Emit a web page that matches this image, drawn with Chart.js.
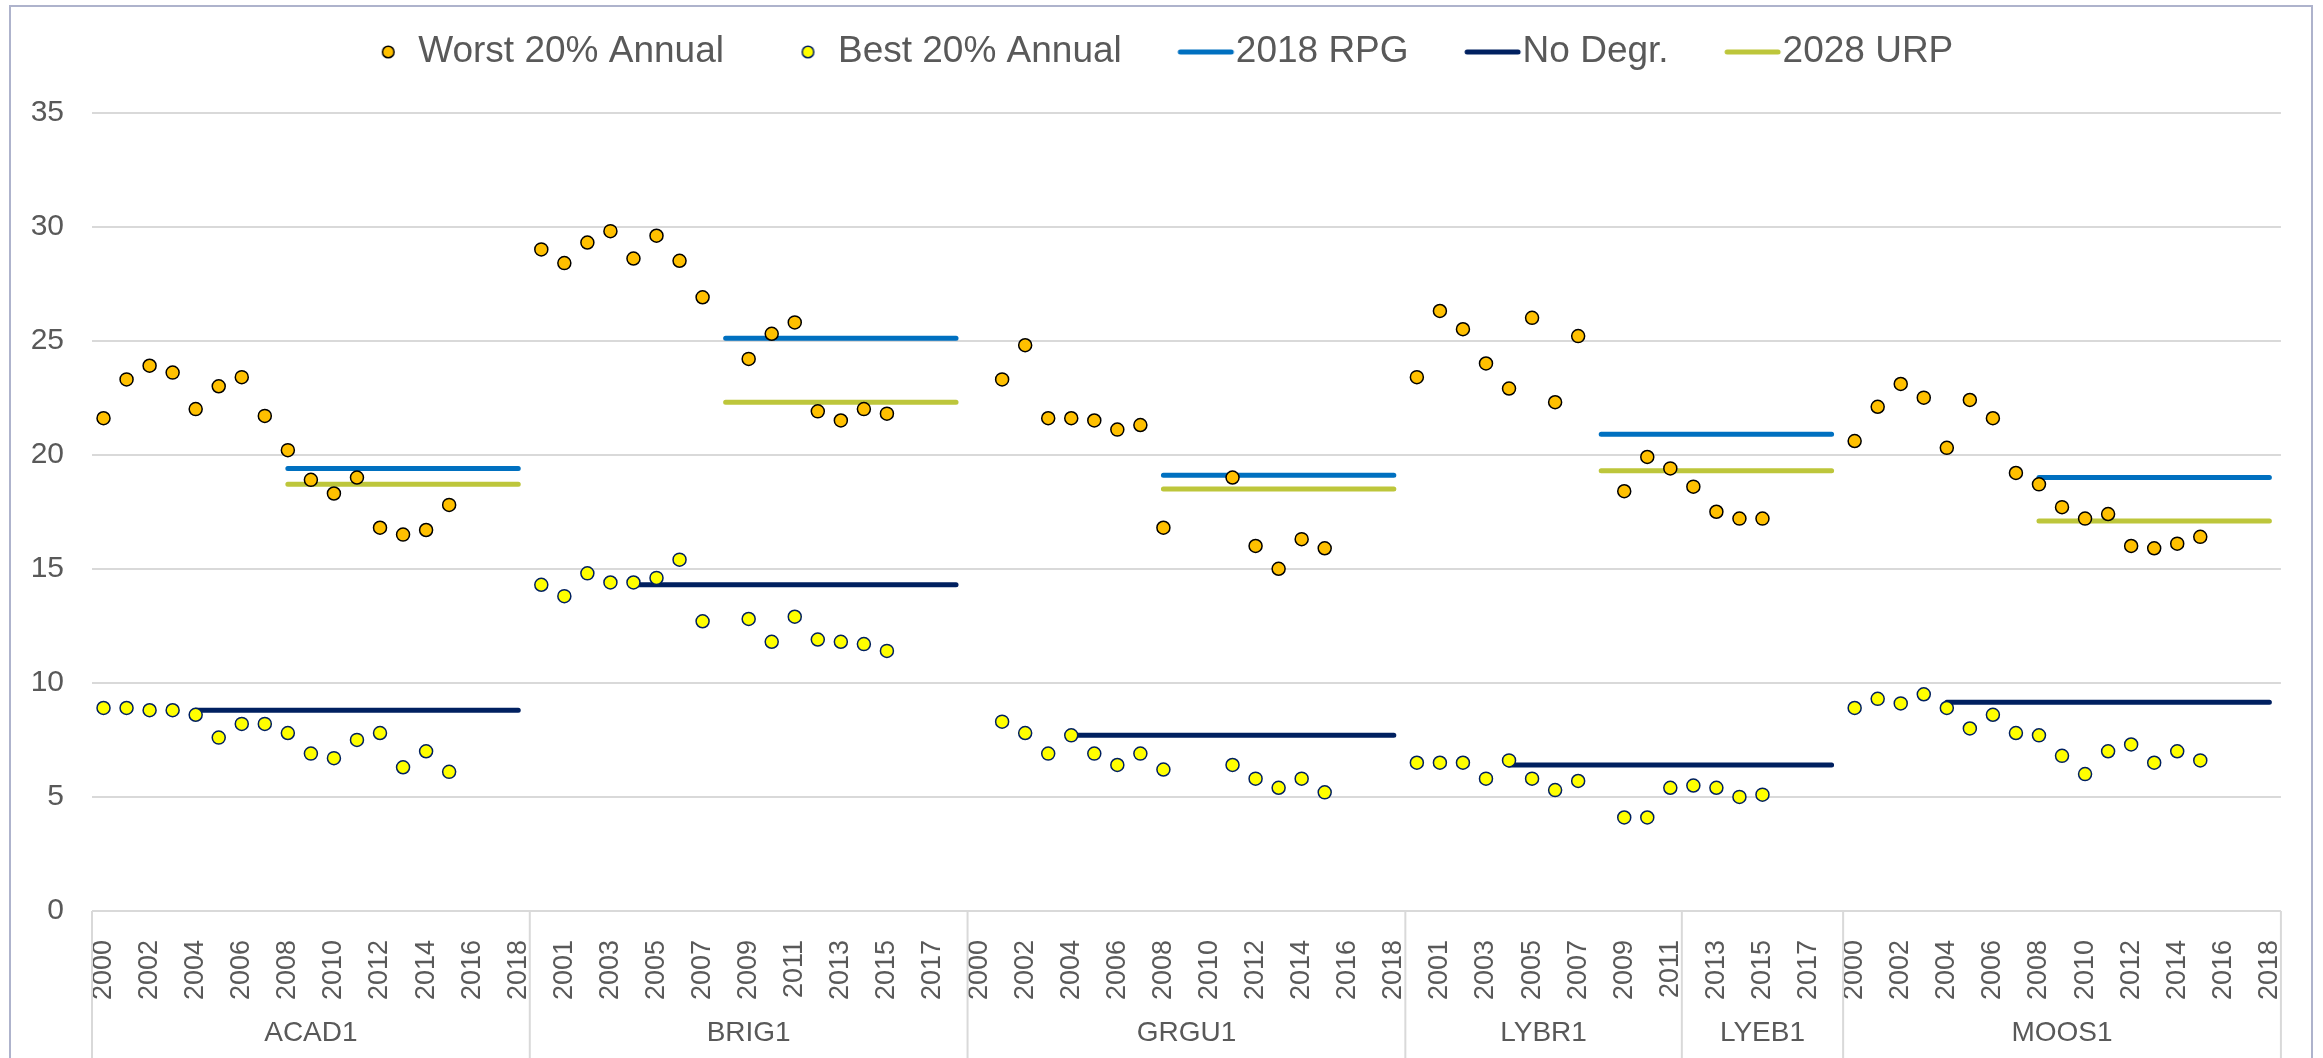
<!DOCTYPE html>
<html>
<head>
<meta charset="utf-8">
<script src="https://cdn.jsdelivr.net/npm/chart.js@4.4.1/dist/chart.umd.min.js"></script>
<style>
  html, body { margin: 0; padding: 0; background: #fff; }
  #wrap { width: 2323px; height: 1058px; }
</style>
</head>
<body>
<div id="wrap"><canvas id="chart" width="2323" height="1058"></canvas></div>
<script>
// sites and the years each one covers
const sites = ['ACAD1', 'BRIG1', 'GRGU1', 'LYBR1', 'LYEB1', 'MOOS1']
const siteFirstYear = [2000, 2000, 2000, 2000, 2012, 2000]
const siteLastYear = [2018, 2018, 2018, 2011, 2018, 2018]

// Worst 20% annual, one entry per year of the site (null = no value)
const worstACAD1 = [21.6, 23.3, 23.9, 23.6, 22.0, 23.0, 23.4, 21.7, 20.2, 18.9, 18.3, 19.0, 16.8, 16.5, 16.7, 17.8, null, null, null]
const worstBRIG1 = [29.0, 28.4, 29.3, 29.8, 28.6, 29.6, 28.5, 26.9, null, 24.2, 25.3, 25.8, 21.9, 21.5, 22.0, 21.8, null, null, null]
const worstGRGU1 = [null, 23.3, 24.8, 21.6, 21.6, 21.5, 21.1, 21.3, 16.8, null, null, 19.0, 16.0, 15.0, 16.3, 15.9, null, null, null]
const worstLYBR1 = [23.4, 26.3, 25.5, 24.0, 22.9, 26.0, 22.3, 25.2, null, 18.4, 19.9, 19.4]
const worstLYEB1 = [18.6, 17.5, 17.2, 17.2, null, null, null]
const worstMOOS1 = [20.6, 22.1, 23.1, 22.5, 20.3, 22.4, 21.6, 19.2, 18.7, 17.7, 17.2, 17.4, 16.0, 15.9, 16.1, 16.4, null, null, null]

// Best 20% annual
const bestACAD1 = [8.9, 8.9, 8.8, 8.8, 8.6, 7.6, 8.2, 8.2, 7.8, 6.9, 6.7, 7.5, 7.8, 6.3, 7.0, 6.1, null, null, null]
const bestBRIG1 = [14.3, 13.8, 14.8, 14.4, 14.4, 14.6, 15.4, 12.7, null, 12.8, 11.8, 12.9, 11.9, 11.8, 11.7, 11.4, null, null, null]
const bestGRGU1 = [null, 8.3, 7.8, 6.9, 7.7, 6.9, 6.4, 6.9, 6.2, null, null, 6.4, 5.8, 5.4, 5.8, 5.2, null, null, null]
const bestLYBR1 = [6.5, 6.5, 6.5, 5.8, 6.6, 5.8, 5.3, 5.7, null, 4.1, 4.1, 5.4]
const bestLYEB1 = [5.5, 5.4, 5.0, 5.1, null, null, null]
const bestMOOS1 = [8.9, 9.3, 9.1, 9.5, 8.9, 8.0, 8.6, 7.8, 7.7, 6.8, 6.0, 7.0, 7.3, 6.5, 7.0, 6.6, null, null, null]

// goal lines: one level per site, drawn from a start year to the end of the site
const rpg2018 = [19.4, 25.1, 19.1, 20.9, 20.9, 19.0]
const urp2028 = [18.7, 22.3, 18.5, 19.3, 19.3, 17.1]
const noDegr = [8.8, 14.3, 7.7, 6.4, 6.4, 9.15]
const goalFromYear = 2008
const noDegrFromYear = 2004

const yTicks = { min: 0, max: 35, step: 5 }

const textColor = '#595959'
const fontFamily = "'Liberation Sans', Arial, sans-serif"
const colors = {
  worst: '#FFC000', best: '#FFFF00',
  rpg: '#0070C0', noDegr: '#002060', urp: '#BDC63B',
  grid: '#D9D9D9'
}

// build category axis
const siteYears = sites.map((s, i) => {
  const ys = []
  for (let y = siteFirstYear[i]; y <= siteLastYear[i]; y++) ys.push(y)
  return ys
})
const labels = siteYears.flat().map(String)
const worst = [].concat(worstACAD1, worstBRIG1, worstGRGU1, worstLYBR1, worstLYEB1, worstMOOS1)
const best = [].concat(bestACAD1, bestBRIG1, bestGRGU1, bestLYBR1, bestLYEB1, bestMOOS1)
const levelLine = (levels, from) => siteYears.flatMap((ys, i) => ys.map(y => y >= from ? levels[i] : null))

// legend markers (box is 70 wide, image is centred on it)
const legendMark = (kind, color, border) => {
  const c = document.createElement('canvas')
  c.width = 124
  c.height = 18
  const g = c.getContext('2d')
  if (kind === 'dot') {
    g.beginPath()
    g.arc(85.5, 9, 5.8, 0, Math.PI * 2)
    g.fillStyle = color
    g.fill()
    g.lineWidth = 1.5
    g.strokeStyle = border
    g.stroke()
  } else {
    g.beginPath()
    g.moveTo(60, 9)
    g.lineTo(111, 9)
    g.lineWidth = 5
    g.lineCap = 'round'
    g.strokeStyle = color
    g.stroke()
  }
  return c
}
const marks = [
  legendMark('dot', colors.worst, '#000000'),
  legendMark('dot', colors.best, colors.noDegr),
  legendMark('line', colors.rpg),
  legendMark('line', colors.noDegr),
  legendMark('line', colors.urp)
]

const legendGap = {
  id: 'legendGap',
  beforeInit(chart) {
    const fit = chart.legend.fit
    chart.legend.fit = function () {
      fit.call(this)
      this.height += 32
    }
  }
}

// second row of the category axis: site names with separators
const siteAxis = {
  id: 'siteAxis',
  afterDraw(chart) {
    const xs = chart.scales.x
    const ctx = chart.ctx
    const half = (xs.getPixelForValue(1) - xs.getPixelForValue(0)) / 2
    const top = chart.chartArea.bottom
    const bottom = chart.height
    ctx.save()
    ctx.strokeStyle = colors.grid
    ctx.lineWidth = 2
    ctx.fillStyle = textColor
    ctx.font = '28px ' + fontFamily
    ctx.textAlign = 'center'
    ctx.textBaseline = 'middle'
    let idx = 0
    sites.forEach((name, i) => {
      const n = siteYears[i].length
      const x0 = xs.getPixelForValue(idx) - half
      const x1 = xs.getPixelForValue(idx + n - 1) + half
      ctx.beginPath()
      ctx.moveTo(x0, top)
      ctx.lineTo(x0, bottom)
      if (i === sites.length - 1) {
        ctx.moveTo(x1, top)
        ctx.lineTo(x1, bottom)
      }
      ctx.stroke()
      ctx.fillText(name, (x0 + x1) / 2, 1033)
      idx += n
    })
    // outer frame
    ctx.strokeStyle = '#AEB3CC'
    ctx.lineWidth = 2
    ctx.strokeRect(10, 6, 2302, 1200)
    ctx.restore()
  }
}

const lineDs = (label, data, color) => ({
  label, data,
  type: 'line',
  borderColor: color,
  backgroundColor: color,
  borderWidth: 5,
  borderCapStyle: 'round',
  pointRadius: 0,
  pointHoverRadius: 0,
  spanGaps: false
})
const dotDs = (label, data, fill, border) => ({
  label, data,
  type: 'line',
  showLine: false,
  backgroundColor: fill,
  borderColor: border,
  pointRadius: 6.5,
  pointBorderWidth: 1.5,
  pointBackgroundColor: fill,
  pointBorderColor: border
})

Chart.defaults.font.family = fontFamily
Chart.defaults.color = textColor

const chart = new Chart(document.getElementById('chart'), {
  type: 'line',
  data: {
    labels,
    datasets: [
      dotDs('Worst 20% Annual', worst, colors.worst, '#000000'),
      dotDs('Best 20% Annual', best, colors.best, colors.noDegr),
      lineDs('2018 RPG', levelLine(rpg2018, goalFromYear), colors.rpg),
      lineDs('No Degr.', levelLine(noDegr, noDegrFromYear), colors.noDegr),
      lineDs('2028 URP', levelLine(urp2028, goalFromYear), colors.urp)
    ]
  },
  options: {
    responsive: false,
    animation: false,
    layout: { padding: { top: 8, right: 40, bottom: 0, left: 0 } },
    plugins: {
      tooltip: { enabled: false },
      legend: {
        position: 'top',
        labels: {
          usePointStyle: true,
          pointStyleWidth: 70,
          padding: 25.5,
          color: textColor,
          font: { size: 37 },
          generateLabels(ch) {
            const items = Chart.defaults.plugins.legend.labels.generateLabels(ch)
            return items.map((it, i) => Object.assign(it, { pointStyle: marks[i] }))
          }
        }
      }
    },
    scales: {
      x: {
        offset: true,
        grid: { display: false },
        border: { display: false },
        ticks: {
          autoSkip: false,
          minRotation: 90,
          maxRotation: 90,
          padding: 21,
          font: { size: 27 },
          color: textColor,
          callback(val, index) {
            return index % 2 === 0 ? this.getLabelForValue(val) : ''
          }
        },
        afterFit(scale) { scale.height = 147 }
      },
      y: {
        min: yTicks.min,
        max: yTicks.max,
        grid: { color: colors.grid, lineWidth: 2, drawTicks: false },
        border: { display: false },
        ticks: {
          stepSize: yTicks.step,
          padding: 28,
          font: { size: 30 },
          color: textColor
        },
        afterFit(scale) { scale.width = 92 }
      }
    }
  },
  plugins: [legendGap, siteAxis]
})
</script>
</body>
</html>
